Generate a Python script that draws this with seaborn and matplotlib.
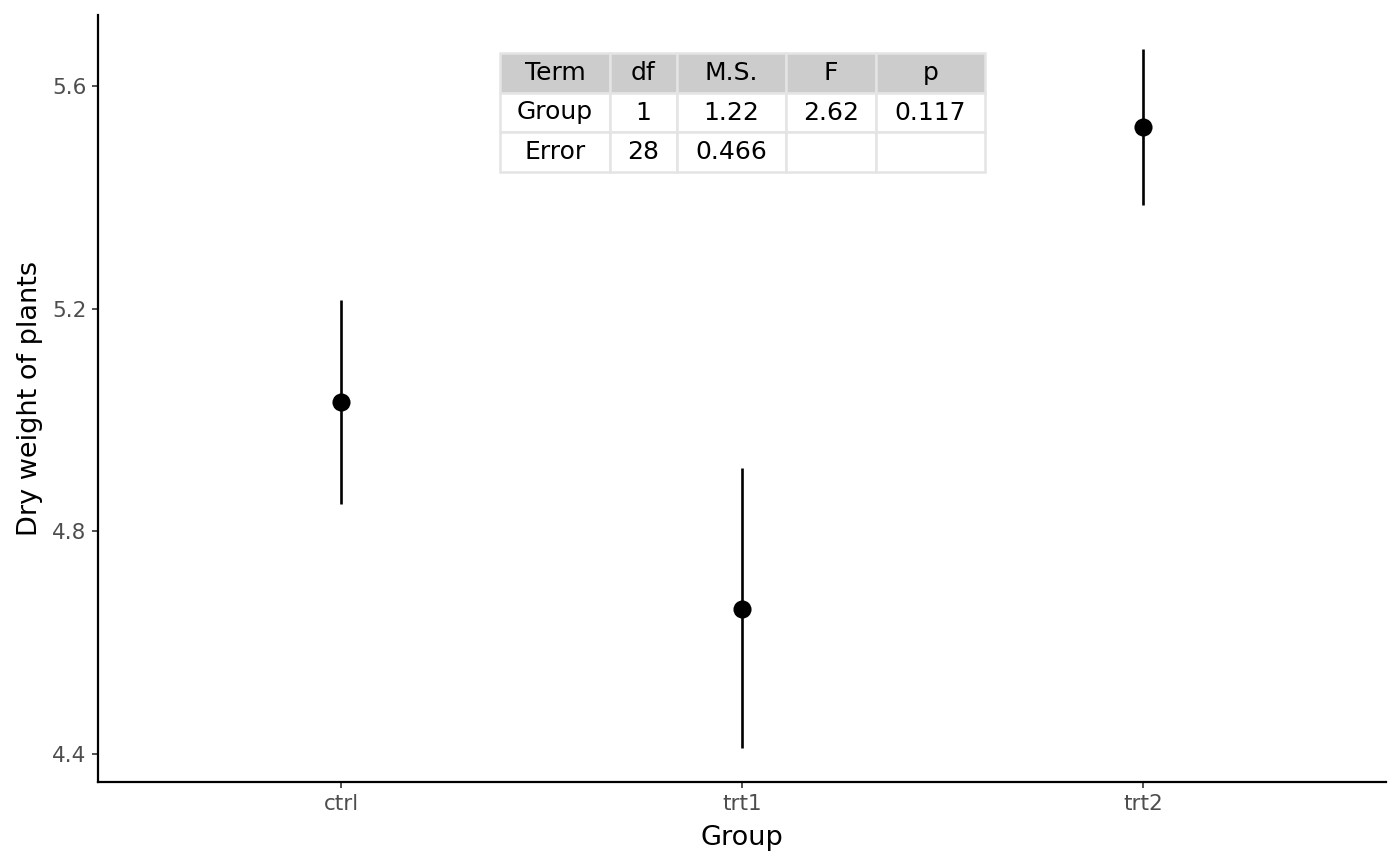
import matplotlib
matplotlib.use("Agg")
import matplotlib.pyplot as plt
import seaborn as sns
import pandas as pd

# group summaries (mean with min/max range)
groups = ["ctrl", "trt1", "trt2"]
means = [5.032, 4.661, 5.526]
lows = [4.849, 4.411, 5.386]
highs = [5.215, 4.914, 5.666]

# ANOVA table shown as an inset
table_cols = ["Term", "df", "M.S.", "F", "p"]
table_rows = [
    ["Group", "1", "1.22", "2.62", "0.117"],
    ["Error", "28", "0.466", "", ""],
]

sns.set_theme(style="white")
plt.rcParams["font.family"] = ["DejaVu Sans"]

df = pd.DataFrame({"group": groups, "mean": means, "lo": lows, "hi": highs})

fig = plt.figure(figsize=(14, 8.66), dpi=100)
ax = fig.add_axes([0.07, 0.097, 0.92, 0.8857])

ax.vlines(df["group"], df["lo"], df["hi"], color="black", linewidth=1.9, zorder=2)
sns.scatterplot(data=df, x="group", y="mean", ax=ax, s=170, color="black",
                edgecolor="black", linewidth=0, zorder=3, legend=False)

ax.set_xlim(-0.606, 2.606)
ax.set_ylim(4.35, 5.7275)
ax.set_yticks([4.4, 4.8, 5.2, 5.6])
ax.set_yticklabels(["4.4", "4.8", "5.2", "5.6"])

for side in ["top", "right"]:
    ax.spines[side].set_visible(False)
for side in ["left", "bottom"]:
    ax.spines[side].set_color("black")
    ax.spines[side].set_linewidth(1.6)

ax.tick_params(axis="both", which="both", length=4, width=1.2, color="#333333",
               labelcolor="#4D4D4D", labelsize=15.5, direction="out",
               left=True, bottom=True, pad=4.5)
ax.set_xlabel("Group", fontsize=19.5, color="black", labelpad=8)
ax.set_ylabel("Dry weight of plants", fontsize=19.5, color="black", labelpad=6)

# inset table
tax = fig.add_axes([500 / 1400, 1 - 172 / 866, 485 / 1400, 119 / 866])
tax.axis("off")
widths = [110, 67, 109, 90, 109]
tot = sum(widths)
tbl = tax.table(cellText=table_rows, colLabels=table_cols, cellLoc="center",
                bbox=[0, 0, 1, 1])
tbl.auto_set_font_size(False)
for (r, c), cell in tbl.get_celld().items():
    cell.set_width(widths[c] / tot)
    cell.set_edgecolor("#E4E4E4")
    cell.set_linewidth(1.8)
    cell.get_text().set_fontsize(18)
    cell.get_text().set_color("black")
    if r == 0:
        cell.set_facecolor("#CCCCCC")
    else:
        cell.set_facecolor("white")

fig.savefig("out.png", dpi=100)
